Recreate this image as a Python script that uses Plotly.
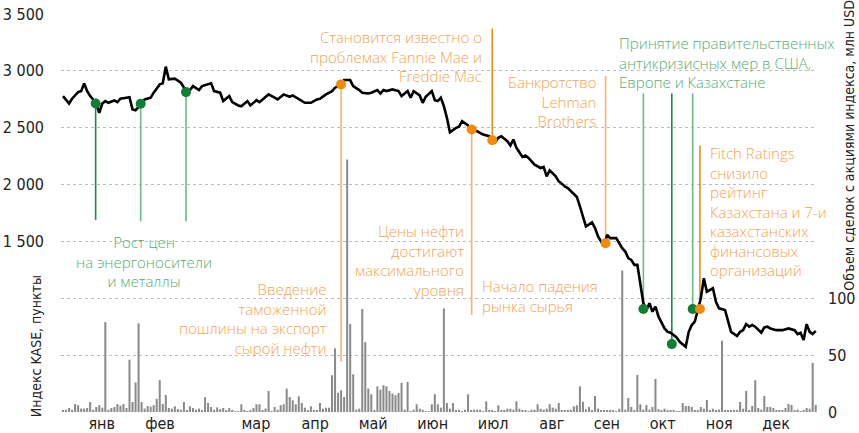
import plotly.graph_objects as go

# ---------------- data ----------------
months = ["янв", "фев", "мар", "апр", "май", "июн", "июл", "авг", "сен", "окт", "ноя", "дек"]
month_pos = [12.8, 32.1, 63.8, 83.4, 102.6, 122.3, 142.3, 161.7, 179.9, 198.4, 217.1, 235.9]

kase_day = [0, 2, 3, 5, 6, 7, 8, 9, 11, 12, 13, 14, 15, 17, 18, 19, 21, 22, 23, 24,
            26, 27, 29, 30, 32, 33, 34, 35, 37, 39, 41, 42, 43, 45, 46, 48, 49, 50, 52, 53,
            55, 56, 58, 59, 61, 62, 64, 65, 68, 70, 71, 73, 75, 76, 78, 80, 82, 84, 85, 87,
            89, 90, 92, 93, 95, 96, 98, 99, 101, 102, 104, 105, 106, 107, 109, 111, 112, 114, 115, 116,
            118, 119, 120, 122, 123, 124, 125, 126, 127, 128, 130, 131, 132, 134, 135, 137, 139, 141, 142, 143,
            144, 145, 147, 148, 149, 150, 152, 153, 154, 156, 158, 159, 160, 161, 163, 164, 165, 166, 167, 169,
            170, 171, 172, 173, 175, 176, 177, 179, 180, 181, 183, 184, 185, 186, 187, 188, 189, 190, 191, 192,
            193, 194, 195, 196, 197, 199, 200, 201, 203, 204, 206, 207, 208, 209, 211, 212, 213, 215, 216, 217,
            219, 220, 221, 223, 224, 225, 226, 227, 228, 229, 231, 232, 233, 234, 236, 238, 240, 242, 243, 244,
            245, 246, 247, 248, 249]
kase_value = [2778, 2713, 2755, 2813, 2822, 2890, 2822, 2778, 2713, 2631, 2713, 2734, 2719, 2740, 2725, 2755, 2764, 2769, 2660, 2654,
              2711, 2749, 2764, 2808, 2881, 2890, 3037, 2925, 2931, 2896, 2813, 2831, 2866, 2831, 2866, 2881, 2890, 2822, 2808, 2734,
              2778, 2725, 2696, 2689, 2734, 2696, 2742, 2725, 2793, 2764, 2749, 2793, 2772, 2784, 2749, 2719, 2719, 2749, 2755, 2793,
              2822, 2852, 2881, 2919, 2919, 2866, 2831, 2808, 2801, 2808, 2831, 2801, 2831, 2822, 2837, 2822, 2778, 2822, 2764, 2822,
              2784, 2719, 2772, 2822, 2742, 2734, 2764, 2689, 2587, 2460, 2499, 2508, 2557, 2519, 2484, 2469, 2440, 2425, 2390, 2372,
              2411, 2425, 2381, 2343, 2396, 2323, 2243, 2255, 2234, 2175, 2146, 2155, 2072, 2125, 2072, 2028, 2008, 1984, 1970, 1911,
              1891, 1808, 1720, 1631, 1667, 1617, 1543, 1455, 1558, 1529, 1529, 1485, 1441, 1411, 1353, 1338, 1294, 1294, 1132, 956,
              897, 956, 882, 926, 838, 735, 705, 697, 656, 617, 573, 705, 765, 794, 1000, 1176, 1058, 1088, 970, 912,
              897, 809, 705, 668, 705, 720, 773, 750, 765, 750, 697, 744, 750, 735, 720, 720, 735, 720, 685, 697,
              632, 773, 705, 685, 714]

volume = [1.5, 2, 3.5, 2, 7, 6, 3, 3, 3.5, 8.8,
          2, 4.4, 6, 3.8, 79, 2, 3.5, 4.4, 7, 5.6,
          7, 3.5, 46, 8.8, 26, 78, 8.8, 3, 5.3, 4.7,
          6, 11.5, 28, 7, 15, 3.5, 3, 5, 2.6, 2,
          8.8, 1.5, 5, 3.5, 2, 3, 1.5, 13, 8, 4.4,
          2, 4, 2.6, 3.5, 1.5, 3.5, 1, 0.6, 0.3, 6.8,
          1, 0.6, 1, 3.5, 6.8, 6.8, 1.5, 3, 18.5, 0.6,
          4.4, 2, 6,
          6.8, 20.6, 13.2, 10.3, 6.8, 13.8, 7.9, 3.8, 0.9, 5,
          0.9, 0.9, 7.9, 2.9, 3.8, 3.8, 32.3, 55.9, 17, 19.1,
          13.2, 222, 77.3, 33.2, 2, 2.9, 90.6, 61.4, 20.6, 15.6,
          0.9, 22.6, 19.7, 23.5, 22.6, 18.5, 16.2, 14.7, 16.8, 25.6,
          2, 26.5, 0.5, 2, 6.8, 2.9, 2, 0.5, 0.5, 6.8,
          15.6, 6.8, 3.8, 91.1, 7.9, 2.9, 7.9, 0.9, 0.9, 0.5,
          2, 15.6, 1.5, 2, 2, 2, 0.5, 9.4, 1.5, 0.9,
          0.5, 5.9, 0.9, 0.9, 2.9, 2.9, 2, 9.4, 2.9, 1.5,
          0.9, 0.5, 2, 2, 6.8, 2.9, 2, 2.9, 6.8, 3.8,
          2.9, 7.9, 1.5, 0.9, 0.9, 2, 5, 5.9, 22.6,
          9.1, 2.4, 4.4, 1.5, 14.1, 2.9, 1.5, 1.5, 0.9, 1.5,
          0.9, 0.3, 2.9, 124.4, 2.1, 12.3, 4.4, 1.5, 32.6, 6.8,
          2.1, 6.2, 2.1, 4.4, 29.1, 2.4, 1.5, 2.9, 1.5, 0.9,
          0.9, 0.3, 0.3, 7.9, 5.3, 5.3, 4.4, 1.5, 0.9, 4.4,
          2.9, 10.6, 1.5, 2.9, 1.5, 2.1, 62.6, 1.5, 0.9, 0.9,
          1.5, 0.9, 8.8, 2.9, 18.5, 1.5, 5.3, 27.9, 3.5, 2.1,
          14.1, 4.4, 4.4, 3.5, 0.9, 0.9, 1.5, 3.5, 7.1, 6.2,
          1.5, 2.1, 0.3, 1.5, 3.5, 2.9, 43.2, 6.2]
volume_day = list(range(len(volume)))

# events: position of marker and end of the connector line
event_day = [10.8, 25.7, 40.7, 92.0, 135.2, 142.0, 179.5, 192.0, 201.4, 208.3, 210.7]
event_value = [2713, 2711, 2813, 2881, 2484, 2390, 1485, 906, 597, 906, 906]
event_line_end = [1690, 1675, 1675, 441, 852, 3372, 2954, 2801, 2801, 2801, 2343]
event_group = ["green", "green", "green", "orange", "orange", "orange", "orange", "green", "green", "green", "orange"]
event_tone = ["dark", "light", "light", "light", "light", "dark", "light", "light", "dark", "light", "dark"]

notes = [
    ("Рост цен<br>на энергоносители<br>и металлы", 26.8, 1323, "center", "green"),
    ("Введение<br>таможенной<br>пошлины на экспорт<br>сырой нефти", 88.1, 822, "right", "orange"),
    ("Становится известно о<br>проблемах Fannie Mae и<br>Freddie Mac", 139.3, 3125, "right", "orange"),
    ("Цены нефти<br>достигают<br>максимального<br>уровня", 133.2, 1329, "right", "orange"),
    ("Начало падения<br>рынка сырья", 137.9, 1020, "left", "orange"),
    ("Банкротство<br>Lehman<br>Brothers", 176.9, 2731, "right", "orange"),
    ("Принятие правительственных<br>антикризисных мер в США,<br>Европе и Казахстане", 183.4, 3077, "left", "green"),
    ("Fitch Ratings<br>снизило<br>рейтинг<br>Казахстана и 7-и<br>казахстанских<br>финансовых<br>организаций", 213.5, 1764, "left", "orange"),
]

left_ticks = [0, 500, 1000, 1500, 2000, 2500, 3000, 3500]
left_ticktext = ["", "", "", "1 500", "2 000", "2 500", "3 000", "3 500"]
right_ticks = [0, 50, 100]

# ---------------- style ----------------
NARROW = "Liberation Sans Narrow, DejaVu Sans Condensed, Arial Narrow, sans-serif"
NOTE_FONT = "Open Sans, Lato, sans-serif"
dot_color = {"green": "#0e7f37", "orange": "#f28a0c"}
conn_color = {("green", "dark"): "#1e8a46", ("green", "light"): "#6bbd86",
              ("orange", "dark"): "#f08c12", ("orange", "light"): "#f7b36e"}
text_color = {"green": "#56ae73", "orange": "#f5a34f"}

fig = go.Figure()

fig.add_trace(go.Bar(x=volume_day, y=volume, yaxis="y2", marker=dict(color="#8a8a8a", line=dict(width=0)),
                     hoverinfo="skip"))

for d, v, e, g, t in zip(event_day, event_value, event_line_end, event_group, event_tone):
    fig.add_trace(go.Scatter(x=[d, d], y=[v, e], mode="lines",
                             line=dict(color=conn_color[(g, t)], width=1.6), hoverinfo="skip"))

fig.add_trace(go.Scatter(x=kase_day, y=kase_value, mode="lines",
                         line=dict(color="#000000", width=2.6), hoverinfo="skip"))

fig.add_trace(go.Scatter(x=event_day, y=event_value, mode="markers",
                         marker=dict(size=10, color=[dot_color[g] for g in event_group]),
                         hoverinfo="skip"))

for text, x, y, anchor, g in notes:
    fig.add_annotation(x=x, y=y, xref="x", yref="y", text=text, showarrow=False,
                       xanchor=anchor, yanchor="middle", align=anchor,
                       font=dict(family=NOTE_FONT, size=15, color=text_color[g], weight=300))

fig.add_annotation(x=-0.032, y=0.165, xref="paper", yref="paper", text="Индекс KASE, пункты",
                   textangle=-90, showarrow=False, xanchor="center", yanchor="middle",
                   font=dict(family=NARROW, size=14, color="#222222"))
fig.add_annotation(x=1.042, y=0.671, xref="paper", yref="paper",
                   text="Объем сделок с акциями индекса, млн USD",
                   textangle=-90, showarrow=False, xanchor="center", yanchor="middle",
                   font=dict(family=NARROW, size=14, color="#222222"))

fig.update_layout(
    width=859, height=433,
    margin=dict(l=61, r=42, t=14, b=21, autoexpand=False),
    plot_bgcolor="white", paper_bgcolor="white",
    showlegend=False, bargap=0.33,
    xaxis=dict(range=[-0.66, 249.43], tickvals=month_pos, ticktext=months, automargin=False,
               showgrid=False, zeroline=False, showline=False, ticks="",
               tickfont=dict(family=NARROW, size=16, color="#222222")),
    yaxis=dict(range=[0, 3500], tickvals=left_ticks, ticktext=left_ticktext, automargin=False,
               showgrid=True, gridcolor="#bdbdbd", griddash="dot", gridwidth=1,
               zeroline=False, showline=False, ticks="", ticklabelstandoff=16,
               tickfont=dict(family=NARROW, size=16, color="#222222")),
    yaxis2=dict(range=[0, 350], tickvals=right_ticks, overlaying="y", side="right", automargin=False,
                showgrid=False, zeroline=False, showline=False, ticks="", ticklabelstandoff=10,
                tickfont=dict(family=NARROW, size=16, color="#222222")),
)

fig.write_html("out.html", config={"displayModeBar": False},
               post_script="document.body.style.margin='0px';")
